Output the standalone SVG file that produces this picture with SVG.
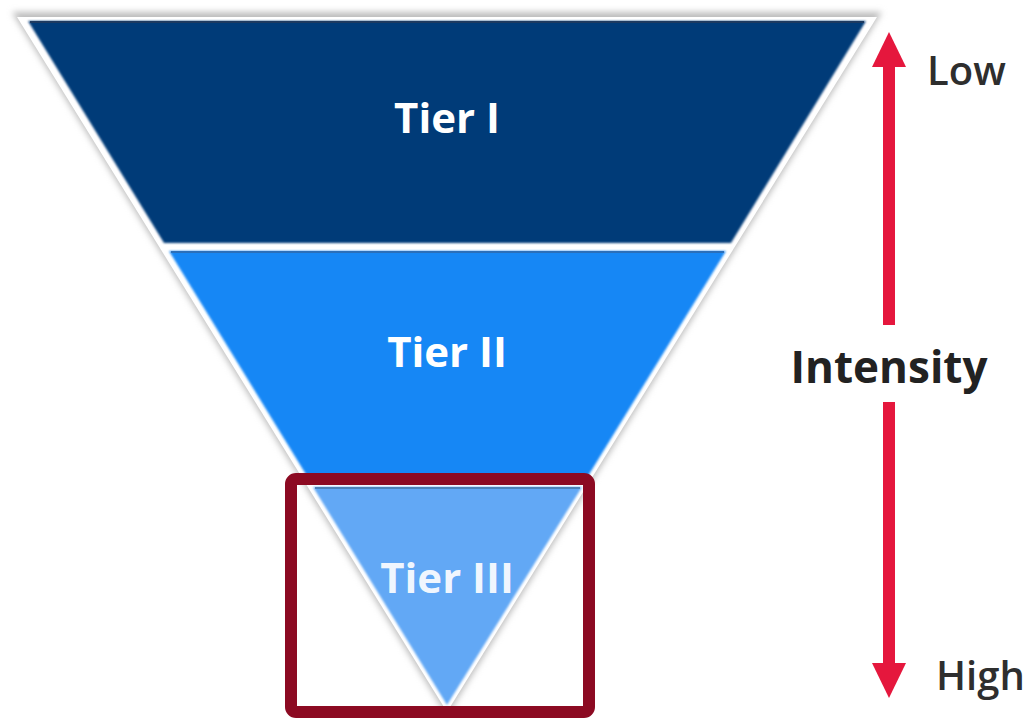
<svg xmlns="http://www.w3.org/2000/svg" width="1029" height="718" viewBox="0 0 1029 718">
<defs>
<filter id="sh" x="-5%" y="-5%" width="110%" height="110%"><feGaussianBlur stdDeviation="3"/></filter>
<filter id="soft" x="-5%" y="-5%" width="110%" height="110%"><feGaussianBlur stdDeviation="0.8"/></filter>
<style>
.tier{font-family:"Open Sans","Liberation Sans",sans-serif;font-weight:bold;font-size:42px;fill:#ffffff;text-anchor:middle}
.lab{font-family:"Open Sans","Liberation Sans",sans-serif;fill:#2e2e2e;font-size:40px;font-weight:600}
.red{fill:#E5173D}
</style>
</defs>
<rect width="1029" height="718" fill="#ffffff"/>
<g id="funnel-base">
<polygon points="12,12 882,12 447,716" fill="#bdbdbd" filter="url(#sh)"/>
<polygon points="17,17 877,17 447,712" fill="#ffffff"/>
</g>
<g id="tier1">
<polygon points="28,21 866,21 731,243 164,243" fill="#003A78" filter="url(#soft)"/>
<line x1="30" y1="22" x2="864" y2="22" stroke="#1d3a60" stroke-width="2"/>
<text class="tier" x="447" y="133">Tier I</text>
</g>
<g id="tier2">
<polygon points="169,251 726,251 585,481 310,481" fill="#1787F5" filter="url(#soft)"/>
<line x1="171" y1="252" x2="724" y2="252" stroke="#2a6fba" stroke-width="2"/>
<text class="tier" x="447" y="367">Tier II</text>
</g>
<g id="tier3">
<polygon points="313,487 582,487 447,705" fill="#62A8F5" filter="url(#soft)"/>
<line x1="315" y1="488" x2="580" y2="488" stroke="#4d82b8" stroke-width="2"/>
<text class="tier" x="447" y="593" fill-opacity="0.92">Tier III</text>
</g>
<g id="highlight-box">
<rect x="291" y="479" width="298" height="233" rx="5" fill="none" stroke="#8C0A22" stroke-width="12"/>
</g>
<g id="connectors">
<rect class="red" x="883" y="62" width="12" height="263"/>
<polygon class="red" points="889,32 906,67 872,67"/>
<rect class="red" x="883" y="402" width="12" height="265"/>
<polygon class="red" points="889,698 906,663 872,663"/>
</g>
<g id="intensity">
<text x="889" y="383" font-family="'Open Sans','Liberation Sans',sans-serif" font-weight="bold" font-size="44" fill="#222222" text-anchor="middle">Intensity</text>
</g>
<g id="low"><text class="lab" x="927" y="85">Low</text></g>
<g id="high"><text class="lab" x="936" y="690">High</text></g>
</svg>
